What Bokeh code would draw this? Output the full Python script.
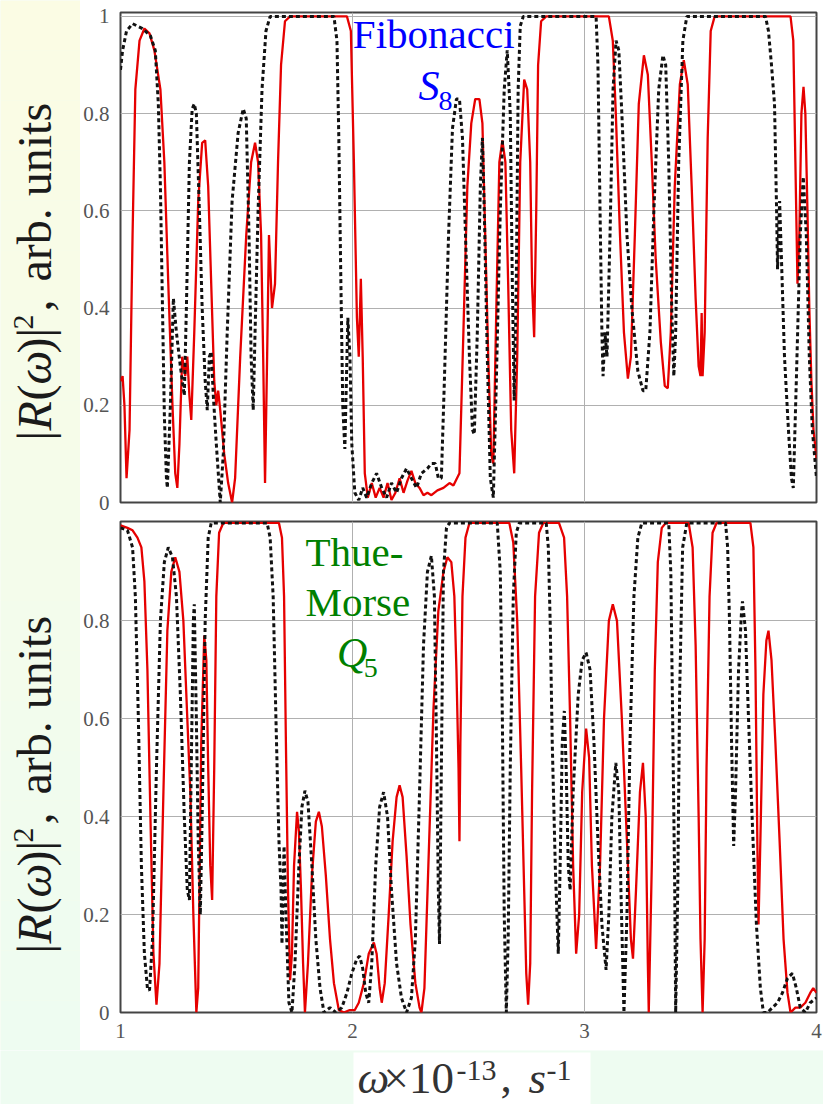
from math import pi
from bokeh.plotting import figure
from bokeh.layouts import row, column
from bokeh.models import Range1d, FixedTicker, Label, BoxAnnotation, CustomJSTickFormatter
from bokeh.core.properties import value
from bokeh.embed import file_html
from bokeh.resources import INLINE

# ---------------- data (omega x 1e-13 s^-1, |R|^2) ----------------
x_ticks = [1, 2, 3, 4]
y_ticks_top = [0, 0.2, 0.4, 0.6, 0.8, 1.0]
y_ticks_bottom = [0, 0.2, 0.4, 0.6, 0.8]

# Fibonacci S8 - red solid
fib_red = [
(1.000,0.25),(1.009,0.26),(1.017,0.20),(1.026,0.05),(1.039,0.15),(1.052,0.55),(1.064,0.85),(1.082,0.95),(1.103,0.975),(1.125,0.965),
(1.146,0.93),(1.172,0.85),(1.189,0.70),(1.206,0.45),(1.224,0.20),(1.236,0.06),(1.245,0.03),(1.254,0.12),(1.266,0.30),(1.279,0.26),
(1.288,0.30),(1.297,0.22),(1.305,0.17),(1.318,0.35),(1.335,0.62),(1.352,0.74),(1.365,0.745),(1.378,0.65),(1.391,0.45),(1.404,0.25),
(1.413,0.20),(1.421,0.23),(1.430,0.19),(1.447,0.10),(1.464,0.04),(1.481,0.00),(1.494,0.05),(1.516,0.30),(1.542,0.55),(1.563,0.70),
(1.580,0.74),(1.593,0.70),(1.606,0.55),(1.615,0.30),(1.623,0.04),(1.632,0.30),(1.640,0.55),(1.653,0.40),(1.666,0.45),(1.679,0.70),
(1.692,0.90),(1.709,0.99),(1.731,1.0),(1.976,1.0),(1.993,0.97),(2.006,0.70),(2.019,0.38),(2.027,0.30),(2.036,0.46),(2.044,0.30),
(2.053,0.06),(2.066,0.01),(2.083,0.04),(2.100,0.01),(2.117,0.03),(2.134,0.01),(2.151,0.04),(2.168,0.005),(2.185,0.02),(2.203,0.05),
(2.220,0.02),(2.237,0.045),(2.254,0.065),(2.271,0.04),(2.289,0.03),(2.306,0.015),(2.323,0.02),(2.340,0.015),(2.366,0.025),(2.392,0.03),
(2.418,0.04),(2.435,0.035),(2.461,0.06),(2.478,0.35),(2.495,0.65),(2.512,0.78),(2.529,0.83),(2.547,0.83),(2.560,0.78),(2.572,0.55),
(2.585,0.30),(2.598,0.10),(2.607,0.08),(2.620,0.40),(2.633,0.70),(2.646,0.745),(2.659,0.70),(2.671,0.45),(2.684,0.15),(2.697,0.06),
(2.710,0.30),(2.723,0.70),(2.740,0.87),(2.753,0.85),(2.766,0.70),(2.774,0.45),(2.783,0.34),(2.792,0.60),(2.800,0.90),(2.813,0.99),
(2.835,1.0),(3.105,1.0),(3.122,0.95),(3.135,0.80),(3.153,0.55),(3.170,0.35),(3.187,0.255),(3.200,0.30),(3.217,0.55),(3.234,0.82),
(3.256,0.92),(3.273,0.88),(3.290,0.70),(3.307,0.50),(3.329,0.33),(3.346,0.24),(3.359,0.235),(3.372,0.35),(3.389,0.65),(3.411,0.86),
(3.428,0.91),(3.445,0.86),(3.462,0.65),(3.479,0.42),(3.492,0.28),(3.500,0.26),(3.505,0.39),(3.509,0.26),(3.518,0.35),(3.531,0.75),
(3.544,0.97),(3.561,1.0),(3.888,1.0),(3.900,0.95),(3.909,0.70),(3.918,0.45),(3.926,0.55),(3.935,0.80),(3.944,0.855),(3.952,0.80),
(3.961,0.60),(3.969,0.40),(3.978,0.25),(3.987,0.15),(4.000,0.09)]

# Fibonacci S8 - black dashed
fib_blk = [
(1.000,0.89),(1.009,0.93),(1.026,0.97),(1.052,0.985),(1.073,0.98),(1.095,0.975),(1.129,0.96),(1.150,0.93),(1.163,0.82),(1.172,0.65),
(1.181,0.40),(1.189,0.18),(1.198,0.05),(1.202,0.03),(1.215,0.20),(1.228,0.42),(1.241,0.35),(1.258,0.28),(1.275,0.22),(1.284,0.40),
(1.297,0.70),(1.309,0.81),(1.318,0.82),(1.327,0.80),(1.340,0.60),(1.352,0.40),(1.365,0.25),(1.374,0.19),(1.383,0.30),(1.391,0.31),
(1.400,0.22),(1.413,0.12),(1.430,0.00),(1.443,0.10),(1.460,0.35),(1.481,0.62),(1.507,0.76),(1.529,0.81),(1.542,0.79),(1.554,0.55),
(1.563,0.30),(1.572,0.19),(1.580,0.35),(1.593,0.60),(1.610,0.85),(1.627,0.97),(1.645,1.0),(1.920,1.0),(1.933,0.95),(1.941,0.75),
(1.950,0.45),(1.958,0.20),(1.967,0.11),(1.976,0.30),(1.980,0.38),(1.989,0.30),(1.997,0.12),(2.010,0.02),(2.027,0.005),(2.044,0.03),
(2.061,0.01),(2.083,0.04),(2.104,0.06),(2.126,0.03),(2.147,0.01),(2.168,0.04),(2.190,0.02),(2.211,0.05),(2.233,0.07),(2.254,0.05),
(2.276,0.03),(2.297,0.06),(2.323,0.07),(2.340,0.08),(2.357,0.08),(2.370,0.05),(2.383,0.05),(2.396,0.25),(2.414,0.55),(2.431,0.77),
(2.448,0.83),(2.461,0.83),(2.474,0.75),(2.487,0.55),(2.504,0.30),(2.517,0.15),(2.525,0.14),(2.538,0.35),(2.551,0.65),(2.560,0.75),
(2.568,0.60),(2.581,0.30),(2.594,0.05),(2.607,0.01),(2.620,0.25),(2.637,0.60),(2.654,0.85),(2.667,0.93),(2.680,0.80),(2.689,0.45),
(2.697,0.21),(2.706,0.45),(2.714,0.85),(2.723,0.98),(2.736,1.0),(3.050,1.0),(3.058,0.90),(3.067,0.60),(3.075,0.35),(3.080,0.26),
(3.088,0.35),(3.097,0.30),(3.110,0.55),(3.123,0.85),(3.136,0.95),(3.148,0.93),(3.161,0.80),(3.183,0.55),(3.204,0.40),(3.230,0.27),
(3.252,0.23),(3.264,0.23),(3.282,0.35),(3.299,0.60),(3.320,0.85),(3.338,0.92),(3.350,0.90),(3.363,0.70),(3.376,0.40),(3.385,0.26),
(3.393,0.35),(3.406,0.70),(3.424,0.95),(3.441,1.0),(3.780,1.0),(3.793,0.97),(3.806,0.90),(3.819,0.82),(3.828,0.60),(3.832,0.48),
(3.841,0.62),(3.849,0.50),(3.862,0.30),(3.879,0.15),(3.892,0.05),(3.900,0.03),(3.913,0.25),(3.930,0.55),(3.943,0.67),(3.956,0.55),
(3.969,0.30),(3.982,0.15),(4.000,0.05)]

# Thue-Morse Q5 - red solid
tm_red = [
(1.000,0.995),(1.030,0.99),(1.052,0.985),(1.073,0.97),(1.090,0.95),(1.103,0.88),(1.116,0.70),(1.129,0.40),(1.142,0.12),(1.155,0.016),
(1.168,0.10),(1.185,0.45),(1.202,0.78),(1.219,0.90),(1.236,0.93),(1.254,0.90),(1.271,0.80),(1.288,0.60),(1.301,0.45),(1.314,0.20),
(1.327,0.00),(1.335,0.05),(1.348,0.55),(1.361,0.77),(1.370,0.72),(1.378,0.50),(1.387,0.30),(1.395,0.23),(1.404,0.50),(1.413,0.85),
(1.425,0.98),(1.443,1.0),(1.683,1.0),(1.696,0.97),(1.705,0.85),(1.713,0.55),(1.722,0.25),(1.731,0.066),(1.739,0.12),(1.748,0.30),
(1.761,0.41),(1.769,0.37),(1.778,0.25),(1.787,0.10),(1.795,0.00),(1.808,0.10),(1.825,0.28),(1.842,0.39),(1.855,0.41),(1.868,0.38),
(1.885,0.28),(1.903,0.15),(1.920,0.06),(1.941,0.005),(1.963,0.00),(1.988,0.005),(2.010,0.005),(2.027,0.02),(2.049,0.06),(2.070,0.12),
(2.092,0.143),(2.104,0.12),(2.117,0.05),(2.126,0.02),(2.139,0.06),(2.156,0.20),(2.173,0.35),(2.190,0.44),(2.203,0.464),(2.216,0.44),
(2.233,0.32),(2.250,0.18),(2.271,0.06),(2.289,0.01),(2.297,0.00),(2.310,0.05),(2.327,0.30),(2.349,0.62),(2.370,0.82),(2.392,0.90),
(2.409,0.93),(2.426,0.92),(2.439,0.85),(2.448,0.70),(2.457,0.50),(2.461,0.35),(2.465,0.55),(2.474,0.85),(2.487,0.97),(2.504,1.0),
(2.676,1.0),(2.693,0.96),(2.710,0.80),(2.727,0.50),(2.740,0.25),(2.749,0.08),(2.757,0.016),(2.766,0.10),(2.774,0.45),(2.787,0.85),
(2.804,0.98),(2.822,1.0),(2.890,1.0),(2.912,0.97),(2.925,0.85),(2.938,0.60),(2.951,0.30),(2.964,0.12),(2.977,0.20),(2.990,0.45),
(3.007,0.58),(3.020,0.52),(3.032,0.30),(3.050,0.13),(3.067,0.30),(3.084,0.60),(3.105,0.80),(3.122,0.834),(3.140,0.80),(3.161,0.60),
(3.183,0.35),(3.200,0.15),(3.209,0.11),(3.222,0.25),(3.239,0.45),(3.252,0.51),(3.264,0.40),(3.273,0.10),(3.277,0.00),(3.290,0.30),
(3.303,0.70),(3.316,0.92),(3.333,0.99),(3.350,1.0),(3.449,1.0),(3.466,0.95),(3.479,0.75),(3.492,0.40),(3.500,0.15),(3.509,0.00),
(3.518,0.15),(3.526,0.50),(3.539,0.85),(3.552,0.98),(3.569,1.0),(3.715,1.0),(3.728,0.95),(3.737,0.70),(3.745,0.35),(3.750,0.18),
(3.758,0.35),(3.771,0.65),(3.784,0.76),(3.793,0.78),(3.806,0.72),(3.823,0.55),(3.841,0.35),(3.858,0.15),(3.875,0.04),(3.888,0.00),
(3.909,0.01),(3.930,0.01),(3.952,0.02),(3.973,0.04),(3.986,0.05),(4.000,0.04)]

# Thue-Morse Q5 - black dashed
tm_blk = [
(1.000,0.99),(1.030,0.985),(1.052,0.95),(1.064,0.85),(1.077,0.60),(1.090,0.30),(1.103,0.12),(1.116,0.05),(1.125,0.045),(1.138,0.15),
(1.155,0.50),(1.172,0.80),(1.189,0.92),(1.206,0.95),(1.224,0.93),(1.241,0.85),(1.258,0.65),(1.275,0.40),(1.288,0.25),(1.297,0.23),
(1.305,0.50),(1.314,0.80),(1.318,0.834),(1.327,0.60),(1.335,0.35),(1.344,0.20),(1.352,0.40),(1.365,0.80),(1.378,0.97),(1.391,1.0),
(1.632,1.0),(1.645,0.97),(1.658,0.85),(1.670,0.60),(1.683,0.35),(1.692,0.25),(1.696,0.14),(1.705,0.34),(1.713,0.20),(1.726,0.02),
(1.739,0.00),(1.752,0.10),(1.769,0.30),(1.782,0.42),(1.795,0.453),(1.808,0.43),(1.825,0.30),(1.842,0.15),(1.860,0.05),(1.877,0.00),
(1.903,0.01),(1.928,0.00),(1.954,0.01),(1.976,0.04),(1.997,0.08),(2.019,0.11),(2.031,0.115),(2.044,0.09),(2.057,0.04),(2.070,0.02),
(2.083,0.10),(2.100,0.30),(2.117,0.42),(2.134,0.45),(2.151,0.40),(2.168,0.25),(2.190,0.10),(2.211,0.03),(2.233,0.00),(2.254,0.03),
(2.271,0.15),(2.289,0.45),(2.306,0.75),(2.323,0.90),(2.340,0.933),(2.353,0.85),(2.362,0.55),(2.370,0.25),(2.375,0.14),(2.383,0.50),
(2.392,0.90),(2.405,0.99),(2.418,1.0),(2.624,1.0),(2.637,0.90),(2.646,0.60),(2.654,0.20),(2.663,0.00),(2.671,0.15),(2.680,0.50),
(2.693,0.85),(2.706,0.98),(2.719,1.0),(2.835,1.0),(2.844,0.95),(2.852,0.80),(2.861,0.55),(2.874,0.30),(2.887,0.12),(2.895,0.30),
(2.904,0.55),(2.913,0.616),(2.921,0.50),(2.930,0.30),(2.938,0.25),(2.951,0.45),(2.973,0.65),(2.990,0.72),(3.007,0.735),(3.024,0.70),
(3.041,0.55),(3.058,0.35),(3.075,0.18),(3.093,0.087),(3.105,0.20),(3.118,0.40),(3.135,0.51),(3.148,0.45),(3.157,0.25),(3.170,0.00),
(3.183,0.20),(3.196,0.55),(3.213,0.85),(3.230,0.97),(3.247,1.0),(3.363,1.0),(3.372,0.90),(3.380,0.60),(3.389,0.25),(3.393,0.00),
(3.402,0.25),(3.410,0.65),(3.423,0.95),(3.441,1.0),(3.608,1.0),(3.617,0.95),(3.625,0.80),(3.634,0.55),(3.643,0.34),(3.651,0.45),
(3.664,0.70),(3.677,0.82),(3.681,0.84),(3.694,0.78),(3.707,0.60),(3.724,0.38),(3.741,0.18),(3.758,0.05),(3.771,0.00),(3.789,0.00),
(3.810,0.01),(3.832,0.02),(3.853,0.04),(3.875,0.07),(3.896,0.08),(3.913,0.05),(3.930,0.01),(3.952,0.00),(3.973,0.02),(4.000,0.03)]

# ---------------- styling ----------------
SERIF = "Liberation Serif"
RED = "#e60000"
BLK = "#111111"
GRID = "#b0b0b0"
BG_TOP = (251, 252, 228)
BG_BOT = (238, 252, 241)

fmt = CustomJSTickFormatter(code="return (Math.round(tick*10)/10).toString();")


def panel(height, b_top, b_bottom, y_end, y_ticks, show_x):
    p = figure(width=743, height=height, x_range=Range1d(1, 4), y_range=Range1d(0, y_end),
               output_backend="svg", toolbar_location=None, title=None,
               min_border_left=38, min_border_right=7,
               min_border_top=b_top, min_border_bottom=b_bottom)
    p.background_fill_color = "white"
    p.border_fill_color = "white"
    p.outline_line_color = "#444444"
    p.outline_line_width = 2
    p.xaxis.ticker = FixedTicker(ticks=x_ticks)
    p.yaxis.ticker = FixedTicker(ticks=y_ticks)
    p.yaxis.formatter = fmt
    p.axis.axis_line_color = None
    p.axis.major_tick_line_color = None
    p.axis.minor_tick_line_color = None
    p.axis.major_label_text_font = SERIF
    p.axis.major_label_text_color = "#555555"
    p.axis.major_label_text_font_size = "21px"
    p.axis.major_label_standoff = 5
    p.grid.grid_line_color = GRID
    p.grid.grid_line_width = 1
    if not show_x:
        p.xaxis.visible = False
    return p


def draw(p, red, blk):
    rx, ry = zip(*red)
    bx, by = zip(*blk)
    p.line(list(rx), list(ry), line_color=RED, line_width=2.3)
    p.line(list(bx), list(by), line_color=BLK, line_width=3, line_dash="4 3")


def label(p, x, y, text, size, color, style="normal", align="left"):
    p.add_layout(Label(x=x, y=y, text=text, text_align=align, text_baseline="alphabetic",
                       text_font=SERIF, text_font_style=style, text_font_size=f"{size}px", text_color=color))


BLUE = "#0000ff"
GREEN = "#008000"

# top panel: frame from y=12 to y=502; bottom panel: frame from 521 to 1012
top = panel(516, 12, 14, 1.008, y_ticks_top, False)
draw(top, fib_red, fib_blk)
label(top, 2.350, 0.963, "Fibonacci", 41, BLUE, align="center")
label(top, 2.285, 0.856, "S", 42, BLUE, style="italic")
label(top, 2.371, 0.826, "8", 28, BLUE)

bottom = panel(534, 5, 38, 1.003, y_ticks_bottom, True)
draw(bottom, tm_red, tm_blk)
label(bottom, 2.008, 0.940, "Thue-", 41, GREEN, align="center")
label(bottom, 2.023, 0.838, "Morse", 41, GREEN, align="center")
label(bottom, 1.933, 0.734, "Q", 42, GREEN, style="italic")
label(bottom, 2.049, 0.704, "5", 28, GREEN)


def bg_color(t):
    return "#%02x%02x%02x" % tuple(round(a + (b - a) * t) for a, b in zip(BG_TOP, BG_BOT))


# ---------------- y-axis titles (left strip) ----------------
ylab = figure(width=80, height=1050, x_range=Range1d(0, 80), y_range=Range1d(0, 1050),
              output_backend="svg", toolbar_location=None, x_axis_location=None, y_axis_location=None,
              title=None, min_border=0)
ylab.grid.visible = False
ylab.outline_line_color = None
ylab.background_fill_color = bg_color(0.5)
ylab.border_fill_color = bg_color(0.5)
n_bands = 21
for i in range(n_bands):
    ylab.add_layout(BoxAnnotation(top=1050 - i * 50, bottom=1050 - (i + 1) * 50, fill_color=bg_color(i / (n_bands - 1)),
                                  fill_alpha=1, line_alpha=0, level="underlay"))

# (text, start position from top in px, baseline x, size, style)
ylab_pieces = [("|", 440, 34, 48, "normal"), ("R", 430, 34, 48, "italic"), ("(", 400, 34, 48, "normal"),
               ("\u03c9", 384, 34, 48, "italic"), (")|", 353, 34, 48, "normal"), ("2", 329, 23, 30, "normal"),
               (",", 311, 34, 48, "normal"), ("arb. units", 281, 34, 48, "normal")]
for offset in (0, 513):
    for txt, pos, xb, size, style in ylab_pieces:
        ylab.text(x=[xb], y=[1050 - pos - offset], text=[txt], angle=pi / 2,
                  text_align="left", text_baseline="alphabetic",
                  text_font=value(SERIF), text_font_size=value(f"{size}px"),
                  text_font_style=style, text_color="#1a1a1a")

# ---------------- x-axis title (bottom strip) ----------------
xlab = figure(width=823, height=54, x_range=Range1d(0, 823), y_range=Range1d(0, 54),
              output_backend="svg", toolbar_location=None, x_axis_location=None, y_axis_location=None,
              title=None, min_border=0)
xlab.grid.visible = False
xlab.outline_line_color = None
xlab.background_fill_color = bg_color(1.0)
xlab.border_fill_color = bg_color(1.0)
xlab.add_layout(BoxAnnotation(left=353, right=590, bottom=0, top=52, fill_color="white", fill_alpha=1,
                              line_alpha=0, level="underlay"))
xlab_pieces = [("\u03c9", 357, 27, 45, "italic"), ("\u00d710", 383, 27, 45, "normal"), ("-13", 456, 34, 30, "normal"),
               (",", 500, 27, 45, "normal"), ("s", 528, 27, 45, "italic"), ("-1", 546, 34, 30, "normal")]
for txt, xl, yb, size, style in xlab_pieces:
    xlab.text(x=[xl], y=[yb], text=[txt], text_align="left", text_baseline="alphabetic",
              text_font=value(SERIF), text_font_size=value(f"{size}px"),
              text_font_style=style, text_color="#333333")

layout = column(row(ylab, column(top, bottom)), xlab)

open("out.html", "w").write(file_html(layout, INLINE))
